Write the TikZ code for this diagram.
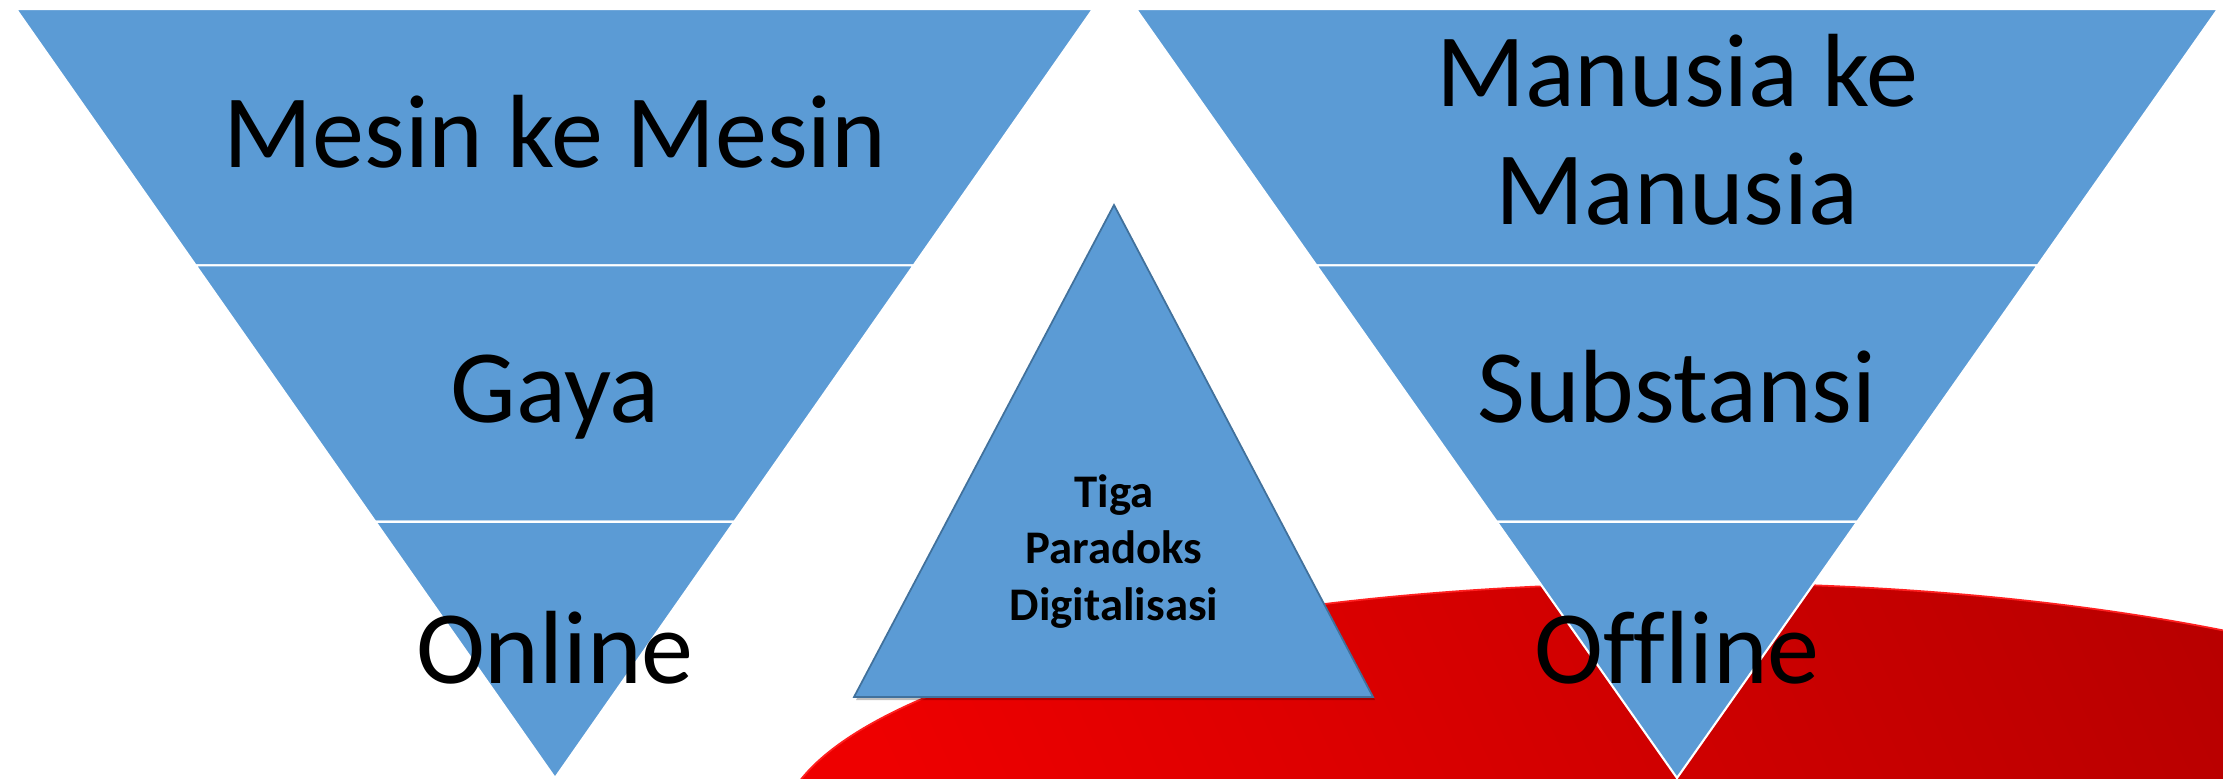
\documentclass[tikz,border=0pt]{standalone}
\usepackage{fontspec}
\setmainfont[Ligatures={NoCommon}]{Carlito}
\usetikzlibrary{calc}
\definecolor{segblue}{HTML}{5B9BD5}
\definecolor{edgeblue}{HTML}{41719C}
\definecolor{redA}{HTML}{EE0000}
\definecolor{redB}{HTML}{B20000}
\definecolor{redEdge}{HTML}{FF2020}
\begin{document}
\begin{tikzpicture}[x=0.01cm,y=-0.01cm,
  seg/.style={fill=segblue, draw=white, line width=0.6pt, line join=miter},
  bigtxt/.style={font=\fontsize{29.6pt}{33.6pt}\selectfont, anchor=base, inner sep=0pt, text=black},
  smalltxt/.style={font=\fontsize{13.3pt}{16pt}\selectfont\bfseries, anchor=base, inner sep=0pt, text=black},
  tri/.style={fill=segblue, draw=edgeblue, line width=0.5pt, line join=miter}]
\useasboundingbox (0,0) rectangle (2223,778);
% red background ellipse
\begin{scope}
  \clip (0,0) rectangle (2223,778);
  \shade[top color=redA, bottom color=redB, shading angle=115]
    (1690,833) ellipse [x radius=910, y radius=250];
  \draw[redEdge, line width=0.5pt] (1690,833) ellipse [x radius=910, y radius=250];
\end{scope}
% left inverted triangle
\coordinate (LA) at (16,9);
\coordinate (LB) at (1093,9);
\coordinate (LC) at (555,778);
\coordinate (L1a) at ($(LA)!0.3333!(LC)$);
\coordinate (L1b) at ($(LB)!0.3333!(LC)$);
\coordinate (L2a) at ($(LA)!0.6667!(LC)$);
\coordinate (L2b) at ($(LB)!0.6667!(LC)$);
\draw[seg] (LA) -- (LB) -- (L1b) -- (L1a) -- cycle;
\draw[seg] (L1a) -- (L1b) -- (L2b) -- (L2a) -- cycle;
\draw[seg] (L2a) -- (L2b) -- (LC) -- cycle;
% right inverted triangle
\coordinate (RA) at (1136,9);
\coordinate (RB) at (2218,9);
\coordinate (RC) at (1677,778);
\coordinate (R1a) at ($(RA)!0.3333!(RC)$);
\coordinate (R1b) at ($(RB)!0.3333!(RC)$);
\coordinate (R2a) at ($(RA)!0.6667!(RC)$);
\coordinate (R2b) at ($(RB)!0.6667!(RC)$);
\draw[seg] (RA) -- (RB) -- (R1b) -- (R1a) -- cycle;
\draw[seg] (R1a) -- (R1b) -- (R2b) -- (R2a) -- cycle;
\draw[seg] (R2a) -- (R2b) -- (RC) -- cycle;
% middle triangle
\coordinate (MA) at (1114,205);
\coordinate (MB) at (1373,697);
\coordinate (MC) at (854,697);
\fill[black, opacity=0.25] ([shift={(2,3)}]MA) -- ([shift={(2,3)}]MB) -- ([shift={(2,3)}]MC) -- cycle;
\draw[tri] (MA) -- (MB) -- (MC) -- cycle;
% texts
\node[bigtxt] (t1) at (555,167) {Mesin ke Mesin};
\node[bigtxt] (t2) at (555,422) {Gaya};
\node[bigtxt] (t3) at (555,683) {Online};
\node[bigtxt] (u1) at (1677,106) {Manusia ke};
\node[bigtxt] (u2) at (1677,224) {Manusia};
\node[bigtxt] (u3) at (1677,422) {Substansi};
\node[bigtxt] (u4) at (1677,683) {Offline};
\node[smalltxt] (m1) at (1114,507) {Tiga};
\node[smalltxt] (m2) at (1114,563) {Paradoks};
\node[smalltxt] (m3) at (1114,620) {Digitalisasi};
\end{tikzpicture}
\end{document}
